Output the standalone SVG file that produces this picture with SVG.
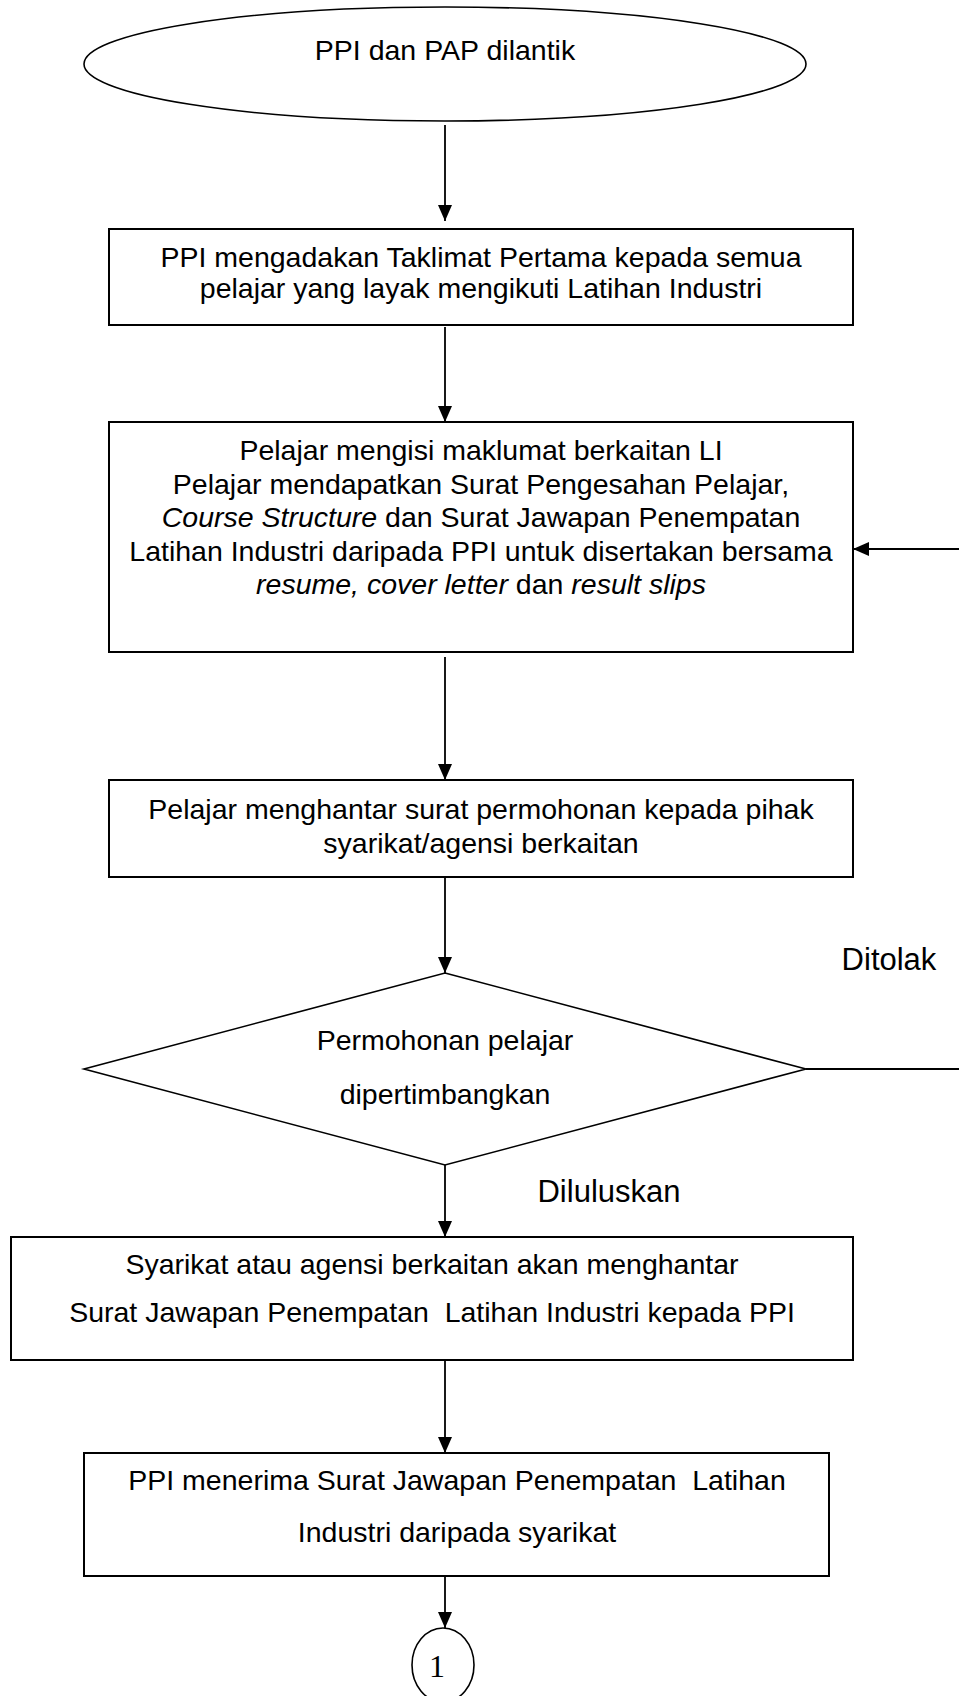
<svg xmlns="http://www.w3.org/2000/svg" width="959" height="1696" viewBox="0 0 959 1696">
<style>
  .shape { fill: #ffffff; stroke: #000000; stroke-width: 2; }
  .thin { fill: #ffffff; stroke: #000000; stroke-width: 1.6; }
  .t { font-family: "Liberation Sans", Arial, sans-serif; font-size: 28.5px; fill: #000000; text-anchor: middle; }
  .lbl { font-family: "Liberation Sans", Arial, sans-serif; font-size: 31px; fill: #000000; text-anchor: middle; }
  .i { font-style: italic; }
  .pre { white-space: pre; }
  .conn { stroke: #000000; stroke-width: 1.8; fill: none; }
</style>
<defs>
  <marker id="arr" viewBox="0 0 16 14" refX="16" refY="7" markerWidth="16" markerHeight="14" markerUnits="userSpaceOnUse" orient="auto">
    <path d="M0,0 L16,7 L0,14 Z" fill="#000000"/>
  </marker>
</defs>
<rect x="0" y="0" width="959" height="1696" fill="#ffffff"/>

<g id="connectors">
  <line class="conn" x1="445" y1="125" x2="445" y2="221" marker-end="url(#arr)"/>
  <line class="conn" x1="445" y1="327" x2="445" y2="422" marker-end="url(#arr)"/>
  <line class="conn" x1="445" y1="657" x2="445" y2="780" marker-end="url(#arr)"/>
  <line class="conn" x1="445" y1="877" x2="445" y2="973" marker-end="url(#arr)"/>
  <line class="conn" x1="806" y1="1069" x2="959" y2="1069"/>
  <line class="conn" x1="959" y1="549" x2="853" y2="549" marker-end="url(#arr)"/>
  <line class="conn" x1="445" y1="1165" x2="445" y2="1237" marker-end="url(#arr)"/>
  <line class="conn" x1="445" y1="1358" x2="445" y2="1453" marker-end="url(#arr)"/>
  <line class="conn" x1="445" y1="1576" x2="445" y2="1628" marker-end="url(#arr)"/>
  <text class="lbl" x="889" y="970">Ditolak</text>
  <text class="lbl" x="609" y="1202">Diluluskan</text>
</g>

<g id="start">
  <ellipse class="thin" cx="445" cy="64" rx="361" ry="57"/>
  <text class="t" x="445" y="60">PPI dan PAP dilantik</text>
</g>

<g id="taklimat">
  <rect class="shape" x="109" y="229" width="744" height="96"/>
  <text class="t" x="481" y="267">PPI mengadakan Taklimat Pertama kepada semua</text>
  <text class="t" x="481" y="298">pelajar yang layak mengikuti Latihan Industri</text>
</g>

<g id="maklumat">
  <rect class="shape" x="109" y="422" width="744" height="230"/>
  <text class="t" x="481" y="460">Pelajar mengisi maklumat berkaitan LI</text>
  <text class="t" x="481" y="494">Pelajar mendapatkan Surat Pengesahan Pelajar,</text>
  <text class="t" x="481" y="527"><tspan class="i">Course Structure</tspan> dan Surat Jawapan Penempatan</text>
  <text class="t" x="481" y="561">Latihan Industri daripada PPI untuk disertakan bersama</text>
  <text class="t" x="481" y="594"><tspan class="i">resume, cover letter</tspan> dan <tspan class="i">result slips</tspan></text>
</g>

<g id="permohonan">
  <rect class="shape" x="109" y="780" width="744" height="97"/>
  <text class="t" x="481" y="819">Pelajar menghantar surat permohonan kepada pihak</text>
  <text class="t" x="481" y="853">syarikat/agensi berkaitan</text>
</g>

<g id="keputusan">
  <polygon class="thin" points="445,973 806,1069 445,1165 84,1069"/>
  <text class="t" x="445" y="1050">Permohonan pelajar</text>
  <text class="t" x="445" y="1104">dipertimbangkan</text>
</g>

<g id="syarikat">
  <rect class="shape" x="11" y="1237" width="842" height="123"/>
  <text class="t" x="432" y="1274">Syarikat atau agensi berkaitan akan menghantar</text>
  <text class="t pre" x="432" y="1322">Surat Jawapan Penempatan  Latihan Industri kepada PPI</text>
</g>

<g id="terima">
  <rect class="shape" x="84" y="1453" width="745" height="123"/>
  <text class="t pre" x="457" y="1490">PPI menerima Surat Jawapan Penempatan  Latihan</text>
  <text class="t" x="457" y="1542">Industri daripada syarikat</text>
</g>

<g id="penyambung">
  <ellipse class="thin" cx="443" cy="1665" rx="31" ry="37"/>
  <text x="437" y="1677" font-family="'Liberation Serif', 'Times New Roman', serif" font-size="32" text-anchor="middle" fill="#000000">1</text>
</g>
</svg>
